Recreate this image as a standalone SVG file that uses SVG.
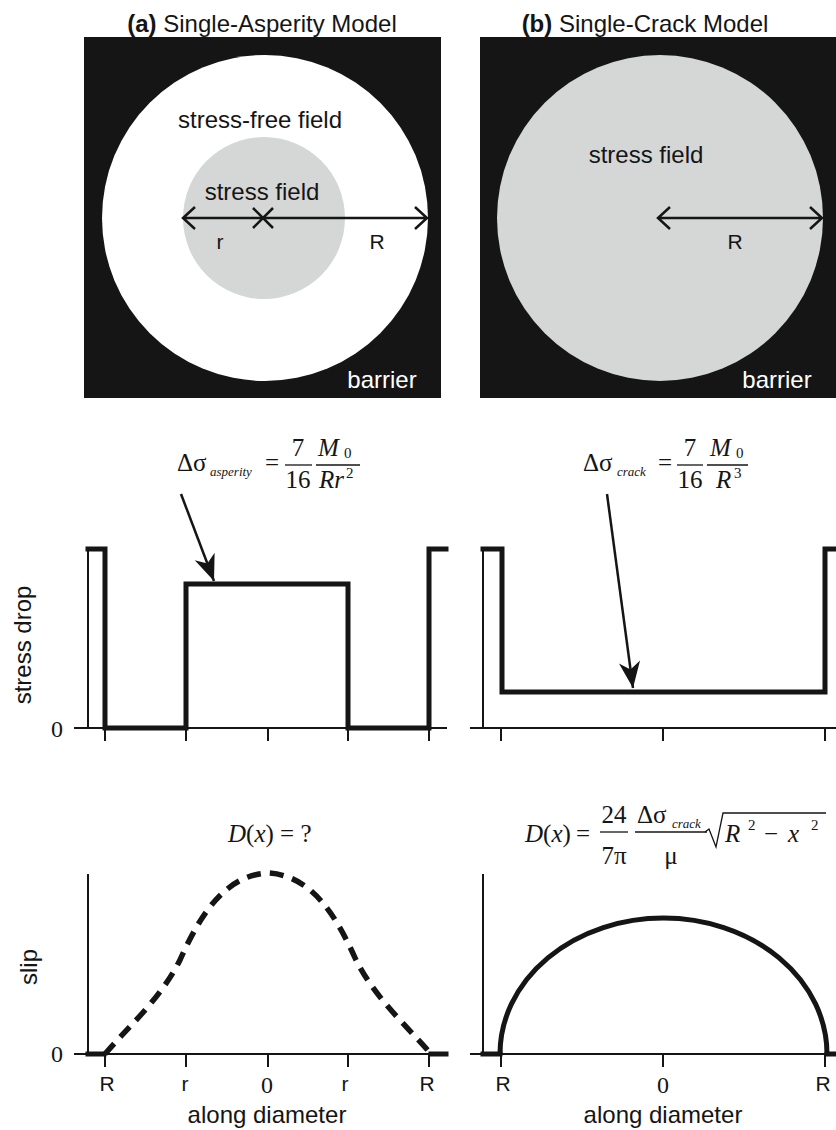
<svg xmlns="http://www.w3.org/2000/svg" width="836" height="1130" viewBox="0 0 836 1130">
<style>
.sans{font-family:"Liberation Sans",Arial,sans-serif;fill:#151515}
.ser{font-family:"Liberation Serif","Times New Roman",serif;fill:#151515}
.it{font-style:italic}
.t24{font-size:24px}
.lab{font-size:21px}
.m{font-size:25px}
.sub{font-size:13px}
.sup{font-size:15px}
.thin{stroke:#151515;stroke-width:2;fill:none}
.thick{stroke:#151515;stroke-width:5;fill:none;stroke-linejoin:miter;stroke-linecap:square}
.bar{stroke:#151515;stroke-width:1.3}
.dim{stroke:#151515;stroke-width:2.5;fill:none}
.ptr{stroke:#151515;stroke-width:2.5;fill:none}
</style>
<defs>
<marker id="head" markerUnits="userSpaceOnUse" markerWidth="30" markerHeight="30" viewBox="-22 -10 24 20" refX="0" refY="0" orient="auto">
<path d="M0,0 L-21,-8.5 L-15,0 L-21,8.5 z" fill="#151515"/>
</marker>
</defs>
<rect width="836" height="1130" fill="#fff"/>

<!-- titles -->
<g id="title-a"><text class="sans t24" x="262" y="32" text-anchor="middle"><tspan font-weight="bold">(a)</tspan> Single-Asperity Model</text></g>
<g id="title-b"><text class="sans t24" x="645" y="32" text-anchor="middle"><tspan font-weight="bold">(b)</tspan> Single-Crack Model</text></g>

<!-- panel a top -->
<g id="asperity-map">
<rect x="84" y="37" width="357" height="361" fill="#151515"/>
<circle cx="265" cy="218" r="163" fill="#fff"/>
<circle cx="264" cy="218" r="81" fill="#d5d7d7"/>
<text class="sans t24" x="260" y="128" text-anchor="middle">stress-free field</text>
<text class="sans t24" x="262" y="200" text-anchor="middle">stress field</text>
<text class="sans lab" x="220" y="249" text-anchor="middle">r</text>
<text class="sans lab" x="377" y="249" text-anchor="middle">R</text>
<text class="sans t24" x="382" y="388" text-anchor="middle" style="fill:#fff">barrier</text>
</g>

<!-- panel b top -->
<g id="crack-map">
<rect x="480" y="37" width="356" height="361" fill="#151515"/>
<circle cx="660" cy="218" r="163" fill="#d5d7d7"/>
<text class="sans t24" x="646" y="163" text-anchor="middle">stress field</text>
<text class="sans lab" x="735" y="249" text-anchor="middle">R</text>
<text class="sans t24" x="777" y="388" text-anchor="middle" style="fill:#fff">barrier</text>
</g>

<!-- formulas -->
<g id="formula-asperity">
<text class="ser m" x="177" y="471">Δσ</text>
<text class="ser it sub" x="210" y="476">asperity</text>
<text class="ser m" x="265" y="471">=</text>
<line class="bar" x1="285" y1="465" x2="312" y2="465"/>
<text class="ser m" x="298" y="456" text-anchor="middle">7</text>
<text class="ser m" x="298" y="488" text-anchor="middle">16</text>
<line class="bar" x1="316" y1="465" x2="360" y2="465"/>
<text class="ser m it" x="318" y="456">M</text>
<text class="ser sup" x="344" y="458">0</text>
<text class="ser m it" x="319" y="488">Rr</text>
<text class="ser sup" x="346" y="478">2</text>
</g>

<g id="formula-crack">
<text class="ser m" x="583" y="471">Δσ</text>
<text class="ser it sub" x="617" y="476">crack</text>
<text class="ser m" x="658" y="471">=</text>
<line class="bar" x1="677" y1="465" x2="703" y2="465"/>
<text class="ser m" x="690" y="456" text-anchor="middle">7</text>
<text class="ser m" x="690" y="488" text-anchor="middle">16</text>
<line class="bar" x1="707" y1="465" x2="748" y2="465"/>
<text class="ser m it" x="710" y="456">M</text>
<text class="ser sup" x="736" y="458">0</text>
<text class="ser m it" x="716" y="488">R</text>
<text class="ser sup" x="734" y="478">3</text>
</g>

<!-- stress drop plot a -->
<g id="stress-plot-a">
<text class="sans t24" transform="translate(31,645) rotate(-90)" text-anchor="middle">stress drop</text>
<text class="ser t24" x="57" y="737" text-anchor="middle">0</text>
<line class="thin" x1="74" y1="728" x2="447" y2="728"/>
<line class="thin" x1="88" y1="549" x2="88" y2="728"/>
<path class="thin" d="M105,728 V741 M186,728 V741 M268,728 V741 M348,728 V741 M429,728 V741"/>
<path class="thick" d="M88,549 H105 V728 H186 V584 H348 V728 H429 V549 H446"/>
</g>

<!-- stress drop plot b -->
<g id="stress-plot-b">
<line class="thin" x1="470" y1="728" x2="836" y2="728"/>
<line class="thin" x1="483" y1="549" x2="483" y2="728"/>
<path class="thin" d="M501,728 V741 M663,728 V741 M825,728 V741"/>
<path class="thick" d="M483,549 H502 V692 H825 V549 H836"/>
</g>

<!-- D(x) formulas -->
<g id="formula-slip-a">
<text class="ser m" x="228" y="842"><tspan class="it">D</tspan>(<tspan class="it">x</tspan>) = ?</text>
</g>

<g id="formula-slip-b">
<text class="ser m" x="525" y="842"><tspan class="it">D</tspan>(<tspan class="it">x</tspan>)</text>
<text class="ser m" x="576" y="842">=</text>
<line class="bar" x1="600" y1="832" x2="628" y2="832"/>
<text class="ser m" x="614" y="823" text-anchor="middle">24</text>
<text class="ser m" x="614" y="864" text-anchor="middle">7π</text>
<line class="bar" x1="635" y1="832" x2="707" y2="832"/>
<text class="ser m" x="637" y="823">Δσ</text>
<text class="ser it sub" x="672" y="828">crack</text>
<text class="ser m" x="671" y="864" text-anchor="middle">μ</text>
<path class="bar" fill="none" d="M705,832 L709,829 L716,847 L723,813 L826,813"/>
<text class="ser m it" x="725" y="842">R</text>
<text class="ser sup" x="748" y="830">2</text>
<text class="ser m" x="764" y="842">−</text>
<text class="ser m it" x="788" y="842">x</text>
<text class="ser sup" x="811" y="830">2</text>
</g>

<!-- slip plot a -->
<g id="slip-plot-a">
<text class="sans t24" transform="translate(37,967) rotate(-90)" text-anchor="middle">slip</text>
<text class="ser t24" x="57" y="1062" text-anchor="middle">0</text>
<line class="thin" x1="74" y1="1054" x2="447" y2="1054"/>
<line class="thin" x1="88" y1="874" x2="88" y2="1054"/>
<path class="thin" d="M105,1054 V1067 M186,1054 V1067 M268,1054 V1067 M348,1054 V1067 M429,1054 V1067"/>
<path class="thick" d="M88,1054 H104 M431,1054 H446"/>
<path d="M105,1054 C125,1030 160,1000 180,960 C200,915 225,875 268,873 C311,875 336,915 356,960 C376,1000 411,1030 431,1054" stroke="#151515" stroke-width="5.5" fill="none" stroke-dasharray="14 9"/>
<text class="sans lab" x="107" y="1091" text-anchor="middle">R</text>
<text class="sans lab" x="185" y="1091" text-anchor="middle">r</text>
<text class="ser t24" x="267" y="1093" text-anchor="middle">0</text>
<text class="sans lab" x="345" y="1091" text-anchor="middle">r</text>
<text class="sans lab" x="427" y="1091" text-anchor="middle">R</text>
<text class="sans t24" x="267" y="1123" text-anchor="middle">along diameter</text>
</g>

<!-- slip plot b -->
<g id="slip-plot-b">
<line class="thin" x1="470" y1="1054" x2="836" y2="1054"/>
<line class="thin" x1="483" y1="874" x2="483" y2="1054"/>
<path class="thin" d="M501,1054 V1067 M663,1054 V1067 M825,1054 V1067"/>
<path class="thick" d="M483,1054 H500 M827,1054 H836"/>
<path d="M500,1054 A163.5,136 0 0 1 827,1054" stroke="#151515" stroke-width="5" fill="none"/>
<text class="sans lab" x="503" y="1091" text-anchor="middle">R</text>
<text class="ser t24" x="663" y="1093" text-anchor="middle">0</text>
<text class="sans lab" x="823" y="1091" text-anchor="middle">R</text>
<text class="sans t24" x="663" y="1123" text-anchor="middle">along diameter</text>
</g>

<!-- connectors -->
<g id="connectors">
<path class="dim" d="M183,218 H427 M195,207 L183,218 L195,229 M415,207 L427,218 L415,229"/>
<path class="dim" d="M253,208 L273,228 M253,228 L273,208"/>
<path class="dim" d="M658,218 H822 M670,207 L658,218 L670,229 M810,207 L822,218 L810,229"/>
<line class="ptr" x1="181" y1="494" x2="214" y2="581" marker-end="url(#head)"/>
<line class="ptr" x1="607" y1="494" x2="633" y2="688" marker-end="url(#head)"/>
</g>
</svg>
